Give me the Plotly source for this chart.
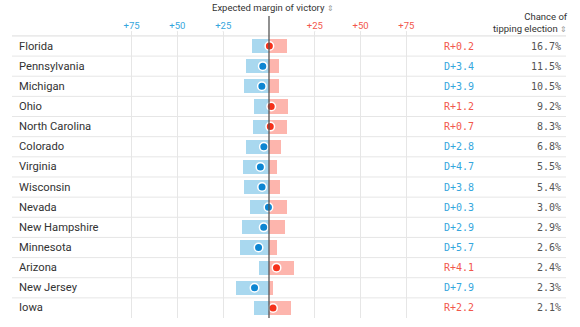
import plotly.graph_objects as go

# ---------------- data ----------------
states = ["Florida", "Pennsylvania", "Michigan", "Ohio", "North Carolina", "Colorado",
          "Virginia", "Wisconsin", "Nevada", "New Hampshire", "Minnesota", "Arizona",
          "New Jersey", "Iowa"]
# signed margin: positive = Republican, negative = Democratic
margin = [0.2, -3.4, -3.9, 1.2, 0.7, -2.8, -4.7, -3.8, -0.3, -2.9, -5.7, 4.1, -7.9, 2.2]
# range of outcomes (low end toward D, high end toward R)
low = [-9.4, -12.7, -13.7, -8.2, -8.6, -12.5, -14.0, -13.7, -10.4, -14.6, -16.0, -5.5, -18.2, -8.0]
high = [9.7, 5.6, 5.6, 10.4, 9.6, 6.7, 4.4, 6.0, 9.6, 8.6, 4.2, 13.6, 2.2, 12.0]
tipping = [16.7, 11.5, 10.5, 9.2, 8.3, 6.8, 5.5, 5.4, 3.0, 2.9, 2.6, 2.4, 2.3, 2.1]
d_ticks = [-75, -50, -25]
d_ticktext = ["+75", "+50", "+25"]
r_ticks = [25, 50, 75]
r_ticktext = ["+25", "+50", "+75"]

# ---------------- styles ----------------
W, H = 580, 327
BLUE_BAR = "#a9d8ef"
PINK_BAR = "#fdb5ad"
RED_DOT = "#f5311b"
BLUE_DOT = "#0d86d2"
RED_TXT = "#f2574c"
BLUE_TXT = "#35a6dd"
GRID = "#e6e6e6"

zero_px = 269.0
px_per_unit = 1.832
x_range = [(0 - zero_px) / px_per_unit, (W - zero_px) / px_per_unit]

row0_px, row_h = 46.0, 20.15
dom_top_px, dom_bot_px = 32.0, 318.0
y_range = [(dom_bot_px - row0_px) / row_h, (dom_top_px - row0_px) / row_h]
y_domain = [(H - dom_bot_px) / H, (H - dom_top_px) / H]

idx = list(range(len(states)))

fig = go.Figure()

# blue part (D side) of range bar: from low to 0
fig.add_trace(go.Bar(
    y=idx, x=[-l for l in low], base=low, orientation="h",
    marker=dict(color=BLUE_BAR, line=dict(width=0)), width=0.7,
    hoverinfo="skip", showlegend=False))
# pink part (R side): from 0 to high
fig.add_trace(go.Bar(
    y=idx, x=high, base=[0] * len(high), orientation="h",
    marker=dict(color=PINK_BAR, line=dict(width=0)), width=0.7,
    hoverinfo="skip", showlegend=False))
# dots
fig.add_trace(go.Scatter(
    y=idx, x=margin, mode="markers",
    marker=dict(size=8.5, color=[RED_DOT if m > 0 else BLUE_DOT for m in margin],
                line=dict(color="white", width=1.5)),
    hoverinfo="skip", showlegend=False, cliponaxis=False))
# dummy trace for second x-axis (red ticks)
fig.add_trace(go.Scatter(x=[0], y=[0], xaxis="x2", mode="markers",
                         marker=dict(opacity=0), hoverinfo="skip", showlegend=False))

shapes = []
# row separators
for i in range(len(states)):
    shapes.append(dict(type="line", xref="paper", yref="y",
                       x0=12 / W, x1=566 / W, y0=i - 0.5, y1=i - 0.5,
                       line=dict(color="#dcdcdc" if i == 0 else GRID, width=1), layer="below"))
# zero line
shapes.append(dict(type="line", xref="x", yref="paper", x0=0, x1=0,
                   y0=y_domain[0], y1=(H - 16) / H,
                   line=dict(color="#555555", width=1.3), layer="above"))
# small tick stubs above header line for grid ticks
for t in d_ticks + r_ticks:
    shapes.append(dict(type="line", xref="x", yref="paper", x0=t, x1=t,
                       y0=y_domain[1], y1=(H - 31) / H,
                       line=dict(color=GRID, width=1), layer="below"))

annotations = []
for i, s in enumerate(states):
    annotations.append(dict(x=17 / W, xref="paper", y=i, yref="y", text=s,
                            showarrow=False, xanchor="left", yanchor="middle",
                            font=dict(family="Roboto", size=11.2, color="#333333")))
    m = margin[i]
    mtxt = ("R+%.1f" % m) if m > 0 else ("D+%.1f" % (-m))
    annotations.append(dict(x=476 / W, xref="paper", y=i, yref="y", text=mtxt,
                            showarrow=False, xanchor="right", yanchor="middle",
                            font=dict(family="DejaVu Sans Mono", size=10,
                                      color=RED_TXT if m > 0 else BLUE_TXT)))
    annotations.append(dict(x=563 / W, xref="paper", y=i, yref="y", text="%.1f%%" % tipping[i],
                            showarrow=False, xanchor="right", yanchor="middle",
                            font=dict(family="DejaVu Sans Mono", size=10, color="#555555")))

annotations.append(dict(x=273 / W, xref="paper", y=(H - 7) / H, yref="paper",
                        text="Expected margin of victory <span style='color:#999;font-size:8px'>⇕</span>",
                        showarrow=False, xanchor="center", yanchor="middle",
                        font=dict(family="Roboto", size=9.5, color="#333333")))
annotations.append(dict(x=570 / W, xref="paper", y=(H - 22.5) / H, yref="paper",
                        text="Chance of<br>tipping election <span style='color:#999;font-size:8px'>⇕</span>",
                        showarrow=False, xanchor="right", yanchor="middle", align="right",
                        font=dict(family="Roboto", size=9.5, color="#333333")))

fig.update_layout(
    width=W, height=H, margin=dict(l=0, r=0, t=0, b=0),
    paper_bgcolor="white", plot_bgcolor="white",
    barmode="overlay", bargap=0,
    xaxis=dict(range=x_range, domain=[0, 1], side="top", tickvals=d_ticks, ticktext=d_ticktext,
               tickfont=dict(family="Roboto", size=9.5, color=BLUE_TXT),
               showgrid=True, gridcolor=GRID, gridwidth=1, zeroline=False,
               showline=False, ticks="", fixedrange=True),
    xaxis2=dict(range=x_range, overlaying="x", side="top", tickvals=r_ticks, ticktext=r_ticktext,
                tickfont=dict(family="Roboto", size=9.5, color=RED_TXT),
                showgrid=True, gridcolor=GRID, gridwidth=1, zeroline=False,
                showline=False, ticks="", fixedrange=True),
    yaxis=dict(range=y_range, domain=y_domain, showticklabels=False, showgrid=False,
               zeroline=False, showline=False, fixedrange=True),
    shapes=shapes, annotations=annotations,
)

fig.write_html("out.html")
